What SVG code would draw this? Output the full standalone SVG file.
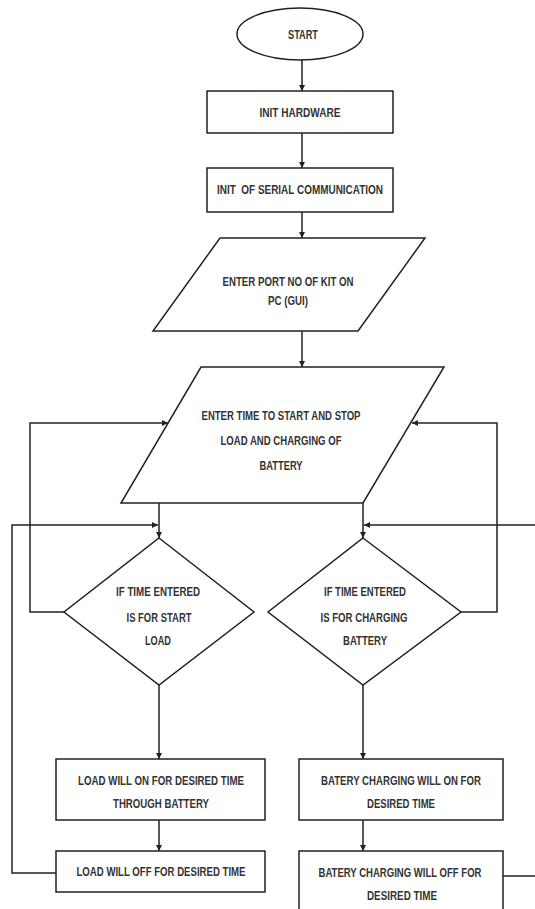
<svg xmlns="http://www.w3.org/2000/svg" width="535" height="909" viewBox="0 0 535 909">
<defs>
<marker id="ah" viewBox="0 0 10 10" refX="10" refY="5" markerWidth="6" markerHeight="6" orient="auto" markerUnits="userSpaceOnUse">
<path d="M0,0 L10,5 L0,10 z" fill="#222"/>
</marker>
<style>
.s{fill:#fff;stroke:#222;stroke-width:1.5}
.c{fill:none;stroke:#222;stroke-width:1.5}
.a{marker-end:url(#ah)}
text{font-family:"Liberation Sans",Arial,sans-serif;font-weight:bold;font-size:12.5px;fill:#333;text-anchor:middle;white-space:pre}
</style>
</defs>
<rect width="535" height="909" fill="#fff"/>
<g id="connectors">
<path class="c a" d="M302,60 V91"/>
<path class="c a" d="M302,133 V168"/>
<path class="c a" d="M302,212 V238"/>
<path class="c a" d="M302,331 V367"/>
<path class="c a" d="M159,503 V538"/>
<path class="c a" d="M363,503 V538"/>
<path class="c a" d="M64,612 H30 V423 H168"/>
<path class="c a" d="M461,612 H497 V423 H412"/>
<path class="c a" d="M159,685 V759"/>
<path class="c a" d="M363,685 V759"/>
<path class="c a" d="M159,820 V851"/>
<path class="c a" d="M363,820 V851"/>
<path class="c a" d="M56,873 H12 V525 H158"/>
<path class="c a" d="M503,876 H545 V525 H364"/>
</g>
<g id="start">
<ellipse class="s" cx="300" cy="34" rx="63" ry="26"/>
<text x="303" y="38.5" textLength="30" lengthAdjust="spacingAndGlyphs">START</text>
</g>
<g id="init-hardware">
<rect class="s" x="207" y="91" width="186" height="42"/>
<text x="300" y="116.5" textLength="81" lengthAdjust="spacingAndGlyphs">INIT HARDWARE</text>
</g>
<g id="init-serial">
<rect class="s" x="207" y="168" width="186" height="44"/>
<text x="300" y="193.5" textLength="166" lengthAdjust="spacingAndGlyphs">INIT  OF SERIAL COMMUNICATION</text>
</g>
<g id="enter-port">
<polygon class="s" points="220,238 425,238 358,331 153,331"/>
<text x="288" y="285.5" textLength="131" lengthAdjust="spacingAndGlyphs">ENTER PORT NO OF KIT ON</text>
<text x="288" y="304.5" textLength="40" lengthAdjust="spacingAndGlyphs">PC (GUI)</text>
</g>
<g id="enter-time">
<polygon class="s" points="201,367 444,367 363,503 121,503"/>
<text x="281" y="419.5" textLength="159" lengthAdjust="spacingAndGlyphs">ENTER TIME TO START AND STOP</text>
<text x="281" y="444.5" textLength="121" lengthAdjust="spacingAndGlyphs">LOAD AND CHARGING OF</text>
<text x="281" y="469.5" textLength="43" lengthAdjust="spacingAndGlyphs">BATTERY</text>
</g>
<g id="decision-load">
<polygon class="s" points="159,538 254,612 159,685 64,612"/>
<text x="158" y="595.5" textLength="84" lengthAdjust="spacingAndGlyphs">IF TIME ENTERED</text>
<text x="159" y="621.5" textLength="65" lengthAdjust="spacingAndGlyphs">IS FOR START</text>
<text x="158" y="644.5" textLength="26" lengthAdjust="spacingAndGlyphs">LOAD</text>
</g>
<g id="decision-charging">
<polygon class="s" points="363,538 461,612 363,685 268,612"/>
<text x="365" y="595.5" textLength="82" lengthAdjust="spacingAndGlyphs">IF TIME ENTERED</text>
<text x="364" y="621.5" textLength="87" lengthAdjust="spacingAndGlyphs">IS FOR CHARGING</text>
<text x="365" y="644.5" textLength="44" lengthAdjust="spacingAndGlyphs">BATTERY</text>
</g>
<g id="load-on">
<rect class="s" x="56" y="759" width="209" height="61"/>
<text x="161" y="784.5" textLength="166" lengthAdjust="spacingAndGlyphs">LOAD WILL ON FOR DESIRED TIME</text>
<text x="161" y="807.5" textLength="96" lengthAdjust="spacingAndGlyphs">THROUGH BATTERY</text>
</g>
<g id="charging-on">
<rect class="s" x="299" y="759" width="204" height="61"/>
<text x="401" y="784.5" textLength="160" lengthAdjust="spacingAndGlyphs">BATERY CHARGING WILL ON FOR</text>
<text x="401" y="807.5" textLength="68" lengthAdjust="spacingAndGlyphs">DESIRED TIME</text>
</g>
<g id="load-off">
<rect class="s" x="56" y="851" width="209" height="41"/>
<text x="161" y="875.5" textLength="169" lengthAdjust="spacingAndGlyphs">LOAD WILL OFF FOR DESIRED TIME</text>
</g>
<g id="charging-off">
<rect class="s" x="299" y="851" width="204" height="64"/>
<text x="400" y="876.5" textLength="163" lengthAdjust="spacingAndGlyphs">BATERY CHARGING WILL OFF FOR</text>
<text x="402" y="899.5" textLength="70" lengthAdjust="spacingAndGlyphs">DESIRED TIME</text>
</g>
</svg>
